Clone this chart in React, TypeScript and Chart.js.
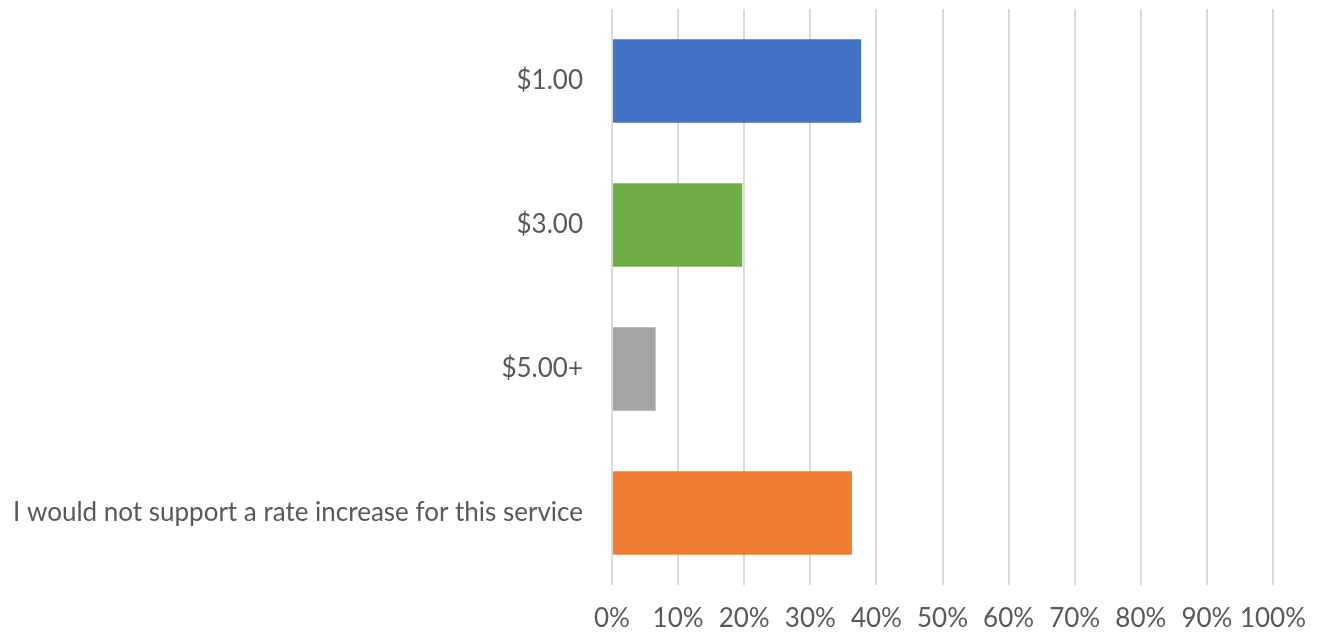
import React, { useEffect, useRef } from "react";
import { Chart, registerables } from "chart.js";

Chart.register(...registerables);

const categories = ["$1.00", "$3.00", "$5.00+", "I would not support a rate increase for this service"];
const values = [37.7, 19.7, 6.6, 36.3];
const barColors = ["#4472C4", "#70AD47", "#A5A5A5", "#ED7D31"];
const xTickStep = 10;

export default function App() {
  const ref = useRef<HTMLCanvasElement | null>(null);
  useEffect(() => {
    if (!ref.current) return;
    const chart = new Chart(ref.current, {
      type: "bar",
      data: {
        labels: categories,
        datasets: [
          {
            data: values,
            backgroundColor: barColors,
            borderWidth: 0,
            barPercentage: 0.58,
            categoryPercentage: 1,
          },
        ],
      },
      options: {
        indexAxis: "y",
        animation: false,
        responsive: false,
        maintainAspectRatio: false,
        layout: { padding: { top: 9, right: 49, bottom: 0, left: 0 } },
        plugins: { legend: { display: false }, tooltip: { enabled: false } },
        scales: {
          x: {
            min: 0,
            max: 100,
            ticks: {
              stepSize: xTickStep,
              callback: (v: any) => v + "%",
              color: "#595959",
              font: { family: "Lato", size: 26 },
              padding: 18,
              maxRotation: 0,
              autoSkip: false,
            },
            grid: { color: "#d9d9d9", lineWidth: 2, drawTicks: false },
            border: { display: false },
            afterFit: (s: any) => {
              s.height = 52;
              s.paddingLeft = 0;
              s.paddingRight = 0;
            },
          },
          y: {
            ticks: {
              color: "#595959",
              font: { family: "Lato", size: 26 },
              padding: 29,
              autoSkip: false,
            },
            grid: { display: false, drawTicks: false },
            border: { display: false },
            afterFit: (s: any) => {
              s.width = 612;
              s.paddingTop = 0;
              s.paddingBottom = 0;
            },
          },
        },
      },
    });
    return () => chart.destroy();
  }, []);
  return (
    <div style={{ position: "fixed", left: 0, top: 0, width: 1322, height: 637, background: "#fff" }}>
      <canvas ref={ref} width={1322} height={637} style={{ display: "block" }} />
    </div>
  );
}
